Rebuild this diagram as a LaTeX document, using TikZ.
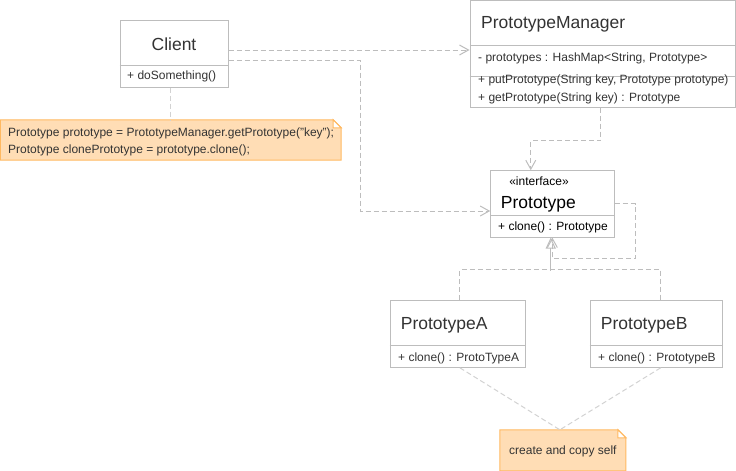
\documentclass[tikz,border=0pt]{standalone}
\usepackage{fontspec}
\setmainfont{Liberation Sans}
\usetikzlibrary{arrows.meta,calc}
\definecolor{umlline}{HTML}{BDBDBD}
\definecolor{umllink}{HTML}{D2D2D2}
\definecolor{umltext}{HTML}{333333}
\definecolor{notefill}{HTML}{FFDDB5}
\definecolor{notedraw}{HTML}{FFB961}

\begin{document}
\begin{tikzpicture}[x=1pt,y=-1pt,
  classbox/.style={draw=umlline, fill=white, line width=1pt, inner sep=0pt},
  compline/.style={draw=umlline, line width=1pt},
  notebox/.style={draw=notedraw, fill=notefill, line width=1pt},
  cname/.style={anchor=west, inner sep=0pt, text=umltext, font=\fontsize{17.5}{20}\selectfont},
  member/.style={anchor=west, inner sep=0pt, text=umltext, font=\fontsize{12}{14}\selectfont},
  dep/.style={draw=umlline, line width=1pt, dash pattern=on 5pt off 3pt,
    -{Straight Barb[length=9pt,width=10pt,line width=1pt]}},
  realline/.style={draw=umlline, line width=1pt, dash pattern=on 5pt off 3pt},
  realize/.style={draw=umlline, line width=1pt, -{Triangle[open,length=11pt,width=10pt,line width=1pt]}},
  notelink/.style={draw=umllink, line width=1pt, dash pattern=on 5pt off 3pt},
]
\useasboundingbox (0,0) rectangle (736,471);

% classes
\node[classbox, minimum width=108pt, minimum height=67pt] (client) at (174,53.5) {};
\draw[compline] (client.west |- 0,65) -- (client.east |- 0,65);
\node[member, anchor=center, font=\fontsize{17.5}{20}\selectfont] (clientname) at (174,44) {Client};
\node[member] (clientop) at (127,76) {+ doSomething()};

\node[classbox, minimum width=265pt, minimum height=106.5pt] (mgr) at (602.5,53.75) {};
\draw[compline] (mgr.west |- 0,45) -- (mgr.east |- 0,45);
\draw[compline] (mgr.west |- 0,76) -- (mgr.east |- 0,76);
\node[cname] (mgrname) at (481,24) {PrototypeManager};
\node[member] (mgrattr) at (478,58) {- prototypes : HashMap<String, Prototype>};
\node[member] (mgrput) at (478,80) {+ putPrototype(String key, Prototype prototype)};
\node[member] (mgrget) at (478,98) {+ getPrototype(String key) : Prototype};

\node[classbox, minimum width=123.3pt, minimum height=66.3pt] (proto) at (552.35,203.85) {};
\draw[compline] (proto.west |- 0,215.7) -- (proto.east |- 0,215.7);
\node[member, anchor=center, text=black] (protostereo) at (539,181) {«interface»};
\node[cname, text=black] (protoname) at (500.7,204) {Prototype};
\node[member, text=black] (protoop) at (498,227.6) {+ clone() : Prototype};

\node[classbox, minimum width=135.7pt, minimum height=67.3pt] (pa) at (457.85,333.65) {};
\draw[compline] (pa.west |- 0,345) -- (pa.east |- 0,345);
\node[cname] (paname) at (400.7,325) {PrototypeA};
\node[member] (paop) at (398,358) {+ clone() : ProtoTypeA};

\node[classbox, minimum width=132pt, minimum height=67.3pt] (pb) at (656,333.65) {};
\draw[compline] (pb.west |- 0,345) -- (pb.east |- 0,345);
\node[cname] (pbname) at (600.7,325) {PrototypeB};
\node[member] (pbop) at (598,358) {+ clone() : PrototypeB};

% notes
\node[minimum width=340.5pt, minimum height=40pt, inner sep=0pt] (usenote) at (170.75,140) {};
\draw[notebox] (usenote.south west) |- ([xshift=-8]usenote.north east)
  -- ([yshift=-8]usenote.north east) |- cycle;
\draw[draw=notedraw, fill=white, line width=1pt] ([xshift=-8]usenote.north east)
  |- ([yshift=-8]usenote.north east) -- cycle;
\node[member] (usecode1) at (8,133) {Prototype prototype = PrototypeManager.getPrototype("key");};
\node[member] (usecode2) at (8,150) {Prototype clonePrototype = prototype.clone();};

\node[minimum width=125.7pt, minimum height=40.7pt, inner sep=0pt] (selfnote) at (562.85,450.35) {};
\draw[notebox] (selfnote.south west) |- ([xshift=-8]selfnote.north east)
  -- ([yshift=-8]selfnote.north east) |- cycle;
\draw[draw=notedraw, fill=white, line width=1pt] ([xshift=-8]selfnote.north east)
  |- ([yshift=-8]selfnote.north east) -- cycle;
\node[member] (selftext) at (509,451.7) {create and copy self};

% connectors
\coordinate (cl1) at ([yshift=3.5]client.east);
\coordinate (cl2) at ([yshift=-6.5]client.east);
\coordinate (pin) at (360,211);
\draw[dep] (cl1) -- (cl1 -| mgr.west);
\draw[dep] (cl2) -| (pin) -- (pin -| proto.west);
\draw[dep] ([xshift=-2]mgr.south) -- ++(0,33) -| ([xshift=-21.6]proto.north);
\draw[dep] (proto.east) -- ++(20.7,0) -- ++(0,55) -| (proto.south);
\draw[realline] ([xshift=2]pa.north) -- ++(0,-30) -| ([xshift=4.7]pb.north);
\draw[realize] ([xshift=-1.6,yshift=-33]proto.south) -- ([xshift=-1.6]proto.south);
\draw[notelink] ([xshift=-4]client.south) -- ([xshift=-0.75]usenote.north);
\draw[notelink] ([xshift=2]pa.south) -- ([xshift=-3]selfnote.north);
\draw[notelink] ([xshift=4.7]pb.south) -- ([xshift=-3]selfnote.north);
\end{tikzpicture}
\end{document}
